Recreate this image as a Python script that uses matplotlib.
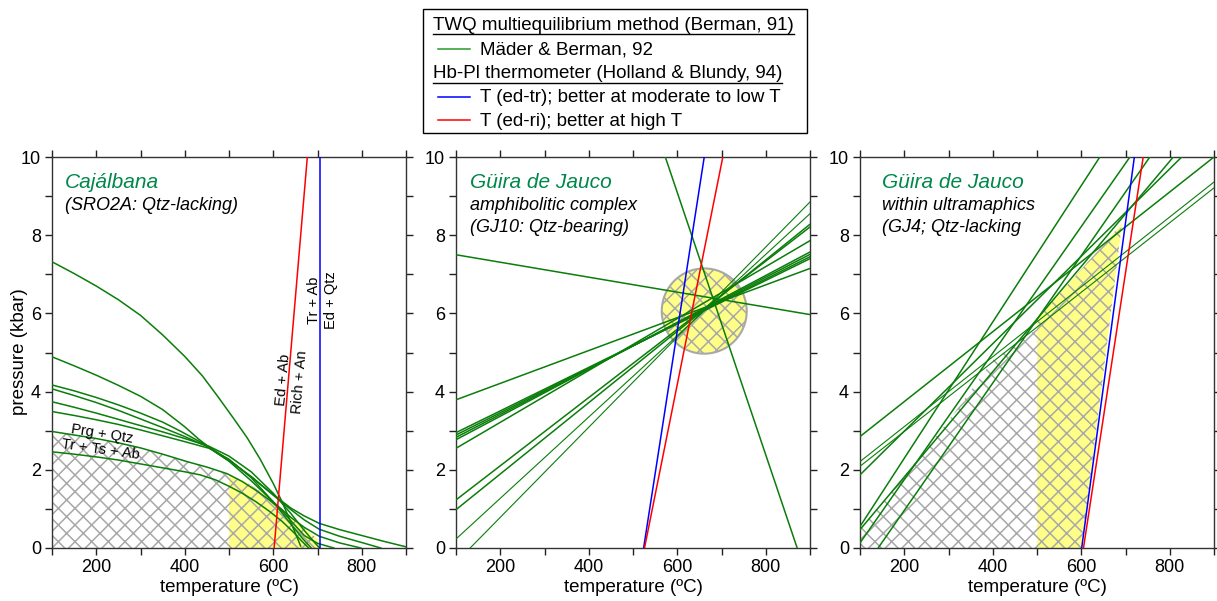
import numpy as np
import matplotlib
matplotlib.use('Agg')
import matplotlib.pyplot as plt
from matplotlib.patches import Ellipse, Rectangle
from matplotlib.lines import Line2D

plt.rcParams['font.family'] = ['Liberation Sans', 'DejaVu Sans']
plt.rcParams['hatch.linewidth'] = 1.1

GREEN = '#0a7d0a'
LEG_GREEN = '#2a9a2a'
TITLE_GREEN = '#00874a'
HATCH = '#a8a8a8'
YELLOW = '#ffff88'
HATCH_PAT = 'xx'

# ---- panel 1: Cajalbana (curved reactions), (T, P) points
caj_curves = [
    ([100, 150, 200, 250, 300, 350, 400, 440, 473, 510, 541, 570, 600, 620, 640, 662],
     [7.32, 7.02, 6.70, 6.35, 5.95, 5.45, 4.90, 4.40, 3.90, 3.32, 2.82, 2.28, 1.65, 1.18, 0.65, 0.05]),
    ([100, 150, 200, 250, 300, 350, 400, 432, 470, 515, 550, 580, 610, 640, 670, 704, 750, 800, 850, 900],
     [4.89, 4.66, 4.42, 4.16, 3.88, 3.54, 3.10, 2.78, 2.45, 2.12, 1.83, 1.55, 1.28, 1.02, 0.82, 0.63, 0.47, 0.32, 0.17, 0.03]),
    ([100, 150, 200, 250, 300, 350, 390, 450, 500, 550, 600, 640, 670, 704, 750, 800, 843],
     [4.17, 4.02, 3.85, 3.66, 3.45, 3.22, 2.99, 2.62, 2.25, 1.82, 1.35, 0.98, 0.72, 0.48, 0.30, 0.14, 0.0]),
    ([100, 150, 200, 250, 300, 350, 400, 450, 500, 550, 600, 640, 670, 704, 750, 798],
     [4.07, 3.90, 3.72, 3.52, 3.30, 3.08, 2.85, 2.60, 2.22, 1.72, 1.18, 0.78, 0.53, 0.30, 0.13, 0.0]),
    ([100, 150, 200, 250, 300, 350, 400, 455, 500, 550, 600, 640, 670, 695, 705],
     [3.74, 3.60, 3.45, 3.29, 3.13, 2.97, 2.80, 2.60, 2.35, 1.95, 1.40, 0.88, 0.45, 0.12, 0.0]),
    ([100, 150, 200, 250, 300, 350, 400, 455, 500, 550, 600, 635, 665, 686],
     [3.49, 3.39, 3.28, 3.16, 3.02, 2.87, 2.72, 2.55, 2.27, 1.80, 1.18, 0.68, 0.26, 0.0]),
    ([100, 150, 200, 250, 300, 350, 405, 450, 496, 530, 560, 590, 620, 646, 670, 700, 737],
     [2.98, 2.89, 2.80, 2.69, 2.56, 2.40, 2.21, 2.07, 1.90, 1.70, 1.48, 1.24, 0.95, 0.62, 0.32, 0.12, 0.0]),
    ([100, 150, 200, 250, 300, 350, 400, 435, 470, 500, 530, 560, 590, 620, 646, 665, 680],
     [2.46, 2.40, 2.33, 2.25, 2.15, 2.05, 1.95, 1.87, 1.74, 1.58, 1.40, 1.19, 0.95, 0.68, 0.40, 0.17, 0.0]),
]
caj_red = ([602, 677], [0, 10])
caj_blue = ([705, 705], [0, 10])
caj_gray_T = [100, 150, 200, 250, 300, 350, 405, 450, 500]
caj_gray_P = [2.98, 2.89, 2.80, 2.69, 2.56, 2.40, 2.21, 2.07, 1.88]
caj_yel_T = [500, 540, 580, 620, 660, 690, 705]
caj_yel_P = [1.87, 1.68, 1.38, 1.00, 0.62, 0.32, 0.20]

# ---- panel 2: Guira de Jauco, amphibolitic complex (straight reactions)
gj10_lines = [
    ([573, 871], [10, 0]),
    ([100, 900], [7.50, 5.97]),
    ([132, 900], [0.0, 8.85]),
    ([100, 900], [0.23, 8.55]),
    ([100, 900], [0.98, 8.28]),
    ([100, 900], [1.23, 8.21]),
    ([100, 900], [2.55, 7.86]),
    ([100, 900], [2.77, 7.57]),
    ([100, 900], [2.83, 7.51]),
    ([100, 900], [2.89, 7.45]),
    ([100, 900], [2.95, 7.40]),
    ([100, 900], [3.79, 7.15]),
]
gj10_widths = [1.1, 1.1, 0.8, 0.8, 1.1, 1.1, 1.1, 1.1, 1.1, 1.1, 1.1, 1.1]
gj10_blue = ([524, 661], [0, 10])
gj10_red = ([526, 703], [0, 10])
gj10_circle = (661, 6.06, 192, 2.18)  # centre T, centre P, width (T), height (P)

# ---- panel 3: Guira de Jauco, within ultramafics
gj4_lines = [
    ([100, 900], [2.85, 10.0]),
    ([100, 900], [2.21, 9.36]),
    ([100, 900], [2.09, 9.21]),
    ([100, 827], [1.87, 10.0]),
    ([100, 642], [0.55, 10.0]),
    ([100, 808], [0.47, 10.0]),
    ([100, 710], [0.13, 10.0]),
    ([141, 755], [0.0, 10.0]),
]
gj4_widths = [1.1, 0.8, 0.8, 1.1, 1.1, 1.1, 1.1, 1.1]
gj4_blue = ([601, 720], [0, 10])
gj4_red = ([605, 740], [0, 10])
gj4_gray_T = [100, 198, 296, 401, 500]
gj4_gray_P = [0.45, 1.82, 3.19, 4.81, 5.60]
gj4_yel_T = [500, 500, 692, 601]
gj4_yel_P = [0.0, 5.85, 8.30, 0.0]

W, H = 1217, 601
fig = plt.figure(figsize=(W / 100, H / 100), dpi=100)


def fx(px):
    return px / W


def fy(py):
    return 1 - py / H


def setup(ax):
    ax.set_xlim(100, 900)
    ax.set_ylim(0, 10)
    xt = np.arange(100, 901, 100)
    ax.set_xticks(xt)
    ax.set_xticklabels(['' if t % 200 else str(t) for t in xt])
    yt = np.arange(0, 11)
    ax.set_yticks(yt)
    ax.set_yticklabels(['' if t % 2 else str(t) for t in yt])
    ax.tick_params(direction='out', length=5, width=1, top=True, right=True,
                   labelsize=13, pad=3, colors='#222222', labelcolor='black')
    for s in ax.spines.values():
        s.set_linewidth(1.0)
        s.set_color('#333333')
    ax.set_xlabel('temperature (ºC)', fontsize=13.5, labelpad=2)


def panel_text(ax, dx, lines):
    w = 354.0
    ys = [188, 210.5, 232]
    for i, (txt, col, size) in enumerate(lines):
        ax.text(dx / w, 1 - (ys[i] - 157) / 391.0, txt, transform=ax.transAxes,
                color=col, fontsize=size, style='italic', va='baseline', ha='left')


lefts = [52, 456, 860]
axes = [fig.add_axes([fx(l), fy(548), 354 / W, 391 / H]) for l in lefts]
ax1, ax2, ax3 = axes

# panel 1
ax1.fill_between(caj_gray_T, 0, caj_gray_P, facecolor='none', edgecolor=HATCH,
                 hatch=HATCH_PAT, linewidth=0, zorder=1)
ax1.fill_between(caj_yel_T, 0, caj_yel_P, facecolor=YELLOW, edgecolor=HATCH,
                 hatch=HATCH_PAT, linewidth=0, zorder=1)
for t, p in caj_curves:
    ax1.plot(t, p, color=GREEN, lw=1.1, zorder=3)
ax1.plot(*caj_red, color='red', lw=1.1, zorder=4)
ax1.plot(*caj_blue, color='blue', lw=1.1, zorder=4)
ax1.text(214, 2.91, 'Prg + Qtz', fontsize=10.5, rotation=-9, ha='center', va='center')
ax1.text(209, 2.53, 'Tr + Ts + Ab', fontsize=10.5, rotation=-8, ha='center', va='center')
ax1.text(623, 4.30, 'Ed + Ab', fontsize=10.5, rotation=85, ha='center', va='center')
ax1.text(660, 4.25, 'Rich + An', fontsize=10.5, rotation=85, ha='center', va='center')
ax1.text(692, 6.34, 'Tr + Ab', fontsize=10.5, rotation=90, ha='center', va='center')
ax1.text(730, 6.34, 'Ed + Qtz', fontsize=10.5, rotation=90, ha='center', va='center')
setup(ax1)
panel_text(ax1, 13, [('Cajálbana', TITLE_GREEN, 15),
                     ('(SRO2A: Qtz-lacking)', 'black', 13)])
fig.text(fx(20), fy(352), 'pressure (kbar)', fontsize=13.5, rotation=90,
         ha='center', va='center')

# panel 2
ct, cp, cw, ch = gj10_circle
ax2.add_patch(Ellipse((ct, cp), cw, ch, facecolor=YELLOW, edgecolor=HATCH,
                      hatch=HATCH_PAT, linewidth=1.5, zorder=1))
for (t, p), lw in zip(gj10_lines, gj10_widths):
    ax2.plot(t, p, color=GREEN, lw=lw, zorder=3)
ax2.plot(*gj10_blue, color='blue', lw=1.1, zorder=4)
ax2.plot(*gj10_red, color='red', lw=1.1, zorder=4)
setup(ax2)
panel_text(ax2, 14, [('Güira de Jauco', TITLE_GREEN, 15),
                     ('amphibolitic complex', 'black', 13),
                     ('(GJ10: Qtz-bearing)', 'black', 13)])

# panel 3
ax3.fill_between(gj4_gray_T, 0, gj4_gray_P, facecolor='none', edgecolor=HATCH,
                 hatch=HATCH_PAT, linewidth=0, zorder=1)
ax3.fill(gj4_yel_T, gj4_yel_P, facecolor=YELLOW, edgecolor=HATCH,
         hatch=HATCH_PAT, linewidth=0, zorder=1)
for (t, p), lw in zip(gj4_lines, gj4_widths):
    ax3.plot(t, p, color=GREEN, lw=lw, zorder=3)
ax3.plot(*gj4_blue, color='blue', lw=1.1, zorder=4)
ax3.plot(*gj4_red, color='red', lw=1.1, zorder=4)
setup(ax3)
panel_text(ax3, 22, [('Güira de Jauco', TITLE_GREEN, 15),
                     ('within ultramaphics', 'black', 13),
                     ('(GJ4; Qtz-lacking', 'black', 13)])

# legend box drawn by hand (two underlined headers)
fig.add_artist(Rectangle((fx(423), fy(133)), fx(807) - fx(423), fy(9) - fy(133),
                         transform=fig.transFigure, fill=False,
                         edgecolor='black', linewidth=1.0))
legend_rows = [
    ('TWQ multiequilibrium method (Berman, 91)', None),
    ('Mäder & Berman, 92', LEG_GREEN),
    ('Hb-Pl thermometer (Holland & Blundy, 94)', None),
    ('T (ed-tr); better at moderate to low T', 'blue'),
    ('T (ed-ri); better at high T', 'red'),
]
baselines = [30, 54.5, 78.5, 102.5, 126]
headers = []
for (label, col), yb in zip(legend_rows, baselines):
    if col is None:
        t = fig.text(fx(433), fy(yb), label, fontsize=13.5, va='baseline')
        headers.append((t, yb))
    else:
        fig.add_artist(Line2D([fx(438), fx(470)], [fy(yb - 6), fy(yb - 6)],
                              color=col, lw=1.1, transform=fig.transFigure))
        fig.text(fx(480), fy(yb), label, fontsize=13.5, va='baseline')

fig.canvas.draw()
renderer = fig.canvas.get_renderer()
for t, yb in headers:
    bb = t.get_window_extent(renderer)
    fig.add_artist(Line2D([bb.x0 / W, bb.x1 / W], [fy(yb + 4), fy(yb + 4)],
                          color='black', lw=1.0, transform=fig.transFigure))

fig.savefig('out.png', dpi=100)
